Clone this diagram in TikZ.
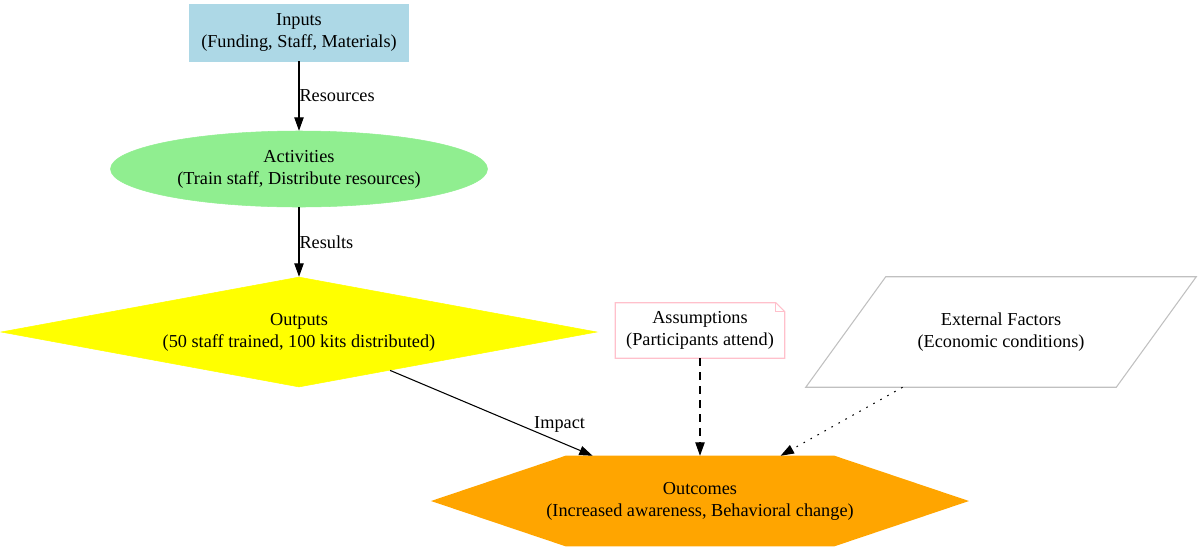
\documentclass[tikz,border=0pt]{standalone}
\usepackage{fontspec}
\setmainfont{Liberation Serif}
\usetikzlibrary{shapes.geometric,arrows.meta,backgrounds}
\definecolor{inputblue}{RGB}{173,216,230}
\definecolor{actgreen}{RGB}{144,238,144}
\definecolor{outyellow}{RGB}{255,255,0}
\definecolor{hexorange}{RGB}{255,165,0}
\definecolor{notepink}{RGB}{255,192,203}
\definecolor{paragray}{RGB}{192,192,192}
\newcommand{\toppad}{\rule{0pt}{13.9pt}}
\begin{document}
\begin{tikzpicture}[x=0.75pt, y=-0.75pt, font=\fontsize{13.7pt}{16.5pt}\selectfont,
    shapetext/.style={align=center, execute at begin node=\toppad},
    inbox/.style={shapetext, rectangle, fill=inputblue, draw=inputblue, minimum width=164.25pt, minimum height=42.75pt, inner sep=0pt},
    actell/.style={shapetext, ellipse, fill=actgreen, draw=actgreen, minimum width=282.75pt, minimum height=57pt, inner sep=1pt},
    outdia/.style={shapetext, diamond, fill=outyellow, draw=outyellow, aspect=5.42, minimum width=447pt, minimum height=82.5pt, inner sep=0pt},
    notebox/.style={shapetext, rectangle, minimum width=126.75pt, minimum height=41.25pt, inner sep=0pt},
    parabox/.style={shapetext, rectangle, minimum width=232.5pt, minimum height=82.5pt, inner sep=0pt},
    hexnode/.style={shapetext, rectangle, minimum width=201.75pt, minimum height=67.5pt, inner sep=0pt},
    conn/.style={-{Triangle[length=10pt,width=7pt]}, line width=0.8pt}]
            \useasboundingbox (0, 0) rectangle (1201, 551);

            %%draw the nodes
            \node[inbox] (inputs) at(299, 32.5){Inputs\\(Funding, Staff, Materials)};
            \node[actell] (activities) at(299, 169){Activities\\(Train staff, Distribute resources)};
            \node[outdia] (outputs) at(299, 332){Outputs\\(50 staff trained, 100 kits distributed)};
            \node[notebox] (assumptions) at(700, 330.5){Assumptions\\(Participants attend)};
            \node[parabox] (external) at(1001, 332){External Factors\\(Economic conditions)};
            \node[hexnode] (outcomes) at(700, 501){Outcomes\\(Increased awareness, Behavioral change)};

            %%the note, the parallelogram and the hexagon
            \draw[notepink, line width=0.8pt] (assumptions.south west) -- (assumptions.north west)
                -- ([xshift=-6.75pt]assumptions.north east) -- ([yshift=-6.75pt]assumptions.north east)
                -- (assumptions.south east) -- cycle;
            \draw[notepink, line width=0.8pt] ([xshift=-6.75pt]assumptions.north east)
                -- ([xshift=-6.75pt, yshift=-6.75pt]assumptions.north east) -- ([yshift=-6.75pt]assumptions.north east);
            \draw[paragray, line width=0.8pt] ([xshift=30pt]external.north west) -- ([xshift=30pt]external.north east)
                -- ([xshift=-30pt]external.south east) -- ([xshift=-30pt]external.south west) -- cycle;
            \begin{scope}[on background layer]
                \fill[hexorange] ([xshift=-100.9pt]outcomes.north) -- ([xshift=100.9pt]outcomes.north)
                    -- ([xshift=201.75pt]outcomes.center) -- ([xshift=100.9pt]outcomes.south)
                    -- ([xshift=-100.9pt]outcomes.south) -- ([xshift=-201.75pt]outcomes.center) -- cycle;
            \end{scope}

            %%draw the arrows
            \draw[conn] (inputs) -- node[right, inner sep=0pt]{Resources} (activities);
            \draw[conn] (activities) -- node[right, inner sep=0pt]{Results} (outputs);
            \draw[conn] (outputs) -- node[pos=0.837, yshift=13pt]{Impact} (outcomes);
            \draw[conn, dash pattern=on 6pt off 4.5pt] (assumptions) -- (outcomes);
            \draw[conn, dash pattern=on 1.2pt off 4.8pt] (external) -- (outcomes);
        \end{tikzpicture}
\end{document}
